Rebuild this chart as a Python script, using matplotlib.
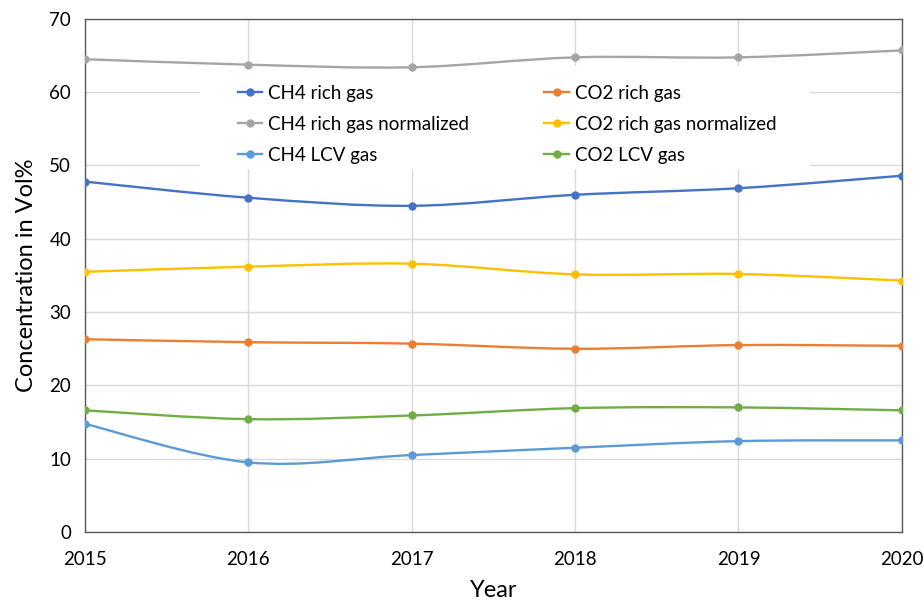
import numpy as np
import matplotlib.pyplot as plt
from matplotlib.path import Path
from matplotlib.patches import PathPatch, Rectangle
from matplotlib.lines import Line2D

plt.rcParams['font.family'] = ['Lato', 'DejaVu Sans']

years = [2015, 2016, 2017, 2018, 2019, 2020]

ch4_rich = [47.8, 45.6, 44.5, 46.0, 46.9, 48.6]
ch4_rich_norm = [64.5, 63.75, 63.4, 64.75, 64.75, 65.7]
ch4_lcv = [14.75, 9.5, 10.5, 11.5, 12.4, 12.5]
co2_rich = [26.3, 25.9, 25.7, 25.0, 25.5, 25.4]
co2_rich_norm = [35.5, 36.2, 36.6, 35.15, 35.2, 34.3]
co2_lcv = [16.6, 15.4, 15.9, 16.9, 17.0, 16.6]

series = [
    ("CH4 rich gas", ch4_rich, "#4472C4"),
    ("CH4 rich gas normalized", ch4_rich_norm, "#A5A5A5"),
    ("CH4 LCV gas", ch4_lcv, "#5B9BD5"),
    ("CO2 rich gas", co2_rich, "#ED7D31"),
    ("CO2 rich gas normalized", co2_rich_norm, "#FFC000"),
    ("CO2 LCV gas", co2_lcv, "#70AD47"),
]


def smooth_path(x, y):
    # cubic bezier through the points, spreadsheet-style smoothing
    pts = np.column_stack([x, y]).astype(float)
    n = len(pts)
    verts = [pts[0]]
    codes = [Path.MOVETO]
    for i in range(n - 1):
        p0 = pts[i - 1] if i > 0 else pts[i]
        p1 = pts[i]
        p2 = pts[i + 1]
        p3 = pts[i + 2] if i + 2 < n else pts[i + 1]
        c1 = p1 + (p2 - p0) / 6.0
        c2 = p2 - (p3 - p1) / 6.0
        verts += [c1, c2, p2]
        codes += [Path.CURVE4] * 3
    return Path(verts, codes)


fig = plt.figure(figsize=(9.24, 6.03), dpi=100)
ax = fig.add_axes([0.092, 0.1177, 0.884, 0.851])

handles = []
for label, vals, color in series:
    ax.add_patch(PathPatch(smooth_path(years, vals), facecolor='none',
                           edgecolor=color, lw=1.7, zorder=3))
    ax.plot(years, vals, 'o', color=color, markersize=5, zorder=4)
    handles.append(Line2D([], [], color=color, lw=1.7, marker='o',
                          markersize=5, label=label))

ax.set_xlim(2015, 2020)
ax.set_ylim(0, 70)
ax.set_xticks(years)
ax.set_yticks(range(0, 71, 10))
ax.grid(True, color='#d9d9d9', lw=1)
ax.set_axisbelow(True)
for s in ax.spines.values():
    s.set_color('#595959')
    s.set_linewidth(1)
ax.tick_params(length=0, labelsize=13.5, colors='#000000')
ax.tick_params(axis='x', pad=14)
ax.tick_params(axis='y', pad=10)

ax.set_xlabel('Year', fontsize=17, labelpad=8)
ax.set_ylabel('Concentration in Vol%', fontsize=17, labelpad=9)

# white legend area that hides the grid behind it
ax.add_patch(Rectangle((0.1408, 0.7065), 0.7466, 0.201, transform=ax.transAxes,
                       facecolor='white', edgecolor='none', zorder=1.5))

leg = ax.legend(handles=handles, ncol=2, loc='upper left',
                bbox_to_anchor=(0.1873, 0.872), fontsize=13.5,
                frameon=False, handlelength=1.3,
                handletextpad=0.32, columnspacing=4.0, labelspacing=0.75,
                borderpad=0, borderaxespad=0)

fig.savefig('out.png', dpi=100)
